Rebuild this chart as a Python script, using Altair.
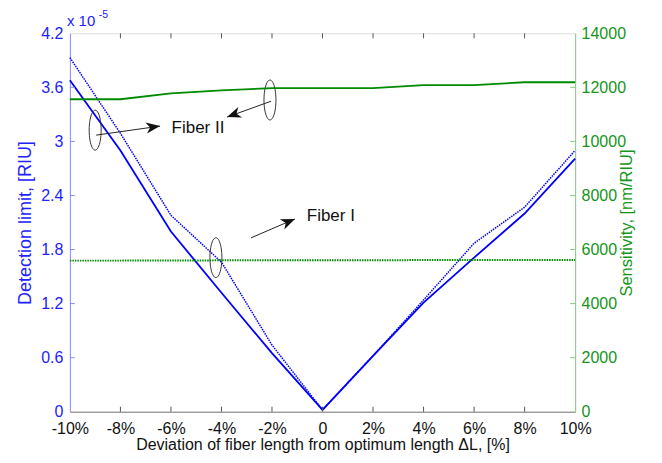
import math
import altair as alt
import pandas as pd

# ---------------- data ----------------
x_pct = [-10, -8, -6, -4, -2, 0, 2, 4, 6, 8, 10]
# detection limit (x 1e-5 RIU)
dl_fiber2 = [3.68, 2.90, 2.00, 1.32, 0.65, 0.02, 0.62, 1.21, 1.71, 2.20, 2.81]   # solid
dl_fiber1 = [3.93, 3.09, 2.18, 1.66, 0.74, 0.02, 0.62, 1.24, 1.87, 2.27, 2.90]   # dotted
# sensitivity (nm/RIU)
sens_fiber2 = [11560, 11560, 11780, 11890, 11970, 11970, 11970, 12080, 12080, 12190, 12190]
sens_fiber1 = [5590, 5590, 5595, 5600, 5600, 5605, 5605, 5610, 5610, 5615, 5615]

x_ticks = [-10, -8, -6, -4, -2, 0, 2, 4, 6, 8, 10]
yb_ticks = [0, 0.6, 1.2, 1.8, 2.4, 3, 3.6, 4.2]
yg_ticks = [0, 2000, 4000, 6000, 8000, 10000, 12000, 14000]

# annotations (in x-% / detection-limit units)
ell_x = [-9.0, -2.08, -4.22]
ell_y = [3.125, 3.46, 1.71]
arr_x = [-8.96, -2.04, -2.83]
arr_y = [3.07, 3.446, 1.93]
arr_x2 = [-6.43, -3.78, -1.09]
arr_y2 = [3.17, 3.27, 2.14]
lab_text = ["Fiber II", "Fiber I"]
lab_x = [-4.93, 0.33]
lab_y = [3.15, 2.17]

# ---------------- geometry / styles ----------------
W, H = 506, 379
BLUE = "#0000ff"
BLUE_AX = "#8c8cff"
BLUE_LAB = "#2222ff"
GREEN = "#008a00"
GREEN_AX = "#88cc88"
GREEN_LAB = "#15951a"
FONT = "Liberation Sans"

xscale = alt.Scale(domain=[-10, 10], nice=False, zero=False)
yb_scale = alt.Scale(domain=[0, 4.2], nice=False)
yg_scale = alt.Scale(domain=[0, 14000], nice=False)

x_axis = alt.Axis(values=x_ticks,
                  labelExpr="datum.value == 0 ? '0' : datum.value + '%'",
                  title="Deviation of fiber length from optimum length ΔL, [%]",
                  ticks=False, grid=False, domainColor="#808080",
                  labelFontSize=16, titleFontSize=16, labelColor="#111",
                  titleColor="#111", labelPadding=9, titlePadding=0,
                  titleFontWeight="normal", labelFlush=False, labelFont=FONT,
                  titleFont=FONT)
yb_axis = alt.Axis(values=yb_ticks, format="~g", title="Detection limit, [RIU]",
                   ticks=False, grid=False, domainColor=BLUE_AX,
                   labelColor=BLUE_LAB, titleColor=BLUE_LAB, labelFontSize=16,
                   titleFontSize=18, labelPadding=7, titlePadding=6,
                   titleFontWeight="normal", labelFlush=False, labelFont=FONT,
                   titleFont=FONT)
yg_axis = alt.Axis(values=yg_ticks, format="d", title="Sensitivity, [nm/RIU]",
                   orient="right", ticks=False, grid=False, domainColor=GREEN_AX,
                   labelColor=GREEN_LAB, titleColor=GREEN_LAB, labelFontSize=16,
                   titleFontSize=16.5, labelPadding=6, titlePadding=9,
                   titleAngle=270, titleBaseline="bottom",
                   titleFontWeight="normal", labelFlush=False, labelFont=FONT,
                   titleFont=FONT)

X = alt.X("x:Q", scale=xscale, axis=x_axis)
YB = alt.Y("y:Q", scale=yb_scale, axis=yb_axis)
YG = alt.Y("y:Q", scale=yg_scale, axis=yg_axis)

df_b2 = pd.DataFrame({"x": x_pct, "y": dl_fiber2})
df_b1 = pd.DataFrame({"x": x_pct, "y": dl_fiber1})
df_g2 = pd.DataFrame({"x": x_pct, "y": sens_fiber2})
df_g1 = pd.DataFrame({"x": x_pct, "y": sens_fiber1})

blue_solid = alt.Chart(df_b2).mark_line(color=BLUE, strokeWidth=1.8).encode(x=X, y=YB)
blue_dot = alt.Chart(df_b1).mark_line(color=BLUE, strokeWidth=1.5, strokeDash=[1.5, 1]).encode(x=X, y=YB)
green_solid = alt.Chart(df_g2).mark_line(color=GREEN, strokeWidth=1.8).encode(x=X, y=YG)
green_dot = alt.Chart(df_g1).mark_line(color=GREEN, strokeWidth=2, strokeDash=[1.5, 1]).encode(x=X, y=YG)

# inward ticks
inner_x = pd.DataFrame({"x": x_ticks[1:-1]})
bottom_ticks = alt.Chart(inner_x).mark_rule(color="#555", strokeWidth=1).encode(
    x=X, y=alt.value(H), y2=alt.value(H - 5))
top_ticks = alt.Chart(inner_x).mark_rule(color="#555", strokeWidth=1).encode(
    x=X, y=alt.value(0), y2=alt.value(5))
left_ticks = alt.Chart(pd.DataFrame({"y": yb_ticks[1:-1]})).mark_rule(
    color=BLUE_AX, strokeWidth=1).encode(y=YB, x=alt.value(0), x2=alt.value(5))
right_ticks = alt.Chart(pd.DataFrame({"y": yg_ticks[1:-1]})).mark_rule(
    color=GREEN_AX, strokeWidth=1).encode(y=YG, x=alt.value(W), x2=alt.value(W - 5))

# ellipse shape (unit space)
n = 48
pts = [(0.3 * math.sin(2 * math.pi * i / n), -math.cos(2 * math.pi * i / n)) for i in range(n)]
ELL = "M" + " L".join(f"{a:.4f},{b:.4f}" for a, b in pts) + " Z"
ARROW = "M0,0 L-0.4,1 L0,0.72 L0.4,1 Z"

ellipses = alt.Chart(pd.DataFrame({"x": ell_x, "y": ell_y})).mark_point(
    shape=ELL, size=1600, filled=False, color="#333", strokeWidth=1, opacity=1
).encode(x=X, y=YB)

px_x = W / 20.0
px_y = H / 4.2
angles = []
for x1, y1, x2, y2 in zip(arr_x, arr_y, arr_x2, arr_y2):
    dx = (x2 - x1) * px_x
    dy = -(y2 - y1) * px_y
    angles.append(math.degrees(math.atan2(dx, -dy)) % 360)

df_arr = pd.DataFrame({"x": arr_x, "y": arr_y, "x2": arr_x2, "y2": arr_y2})
arrow_lines = alt.Chart(df_arr).mark_rule(color="#222", strokeWidth=1).encode(
    x=X, y=YB, x2="x2:Q", y2="y2:Q")
df_head = pd.DataFrame({"x": arr_x2, "y": arr_y2, "ang": angles})
arrow_heads = alt.Chart(df_head).mark_point(
    shape=ARROW, size=784, filled=True, color="#111", opacity=1, strokeWidth=0
).encode(x=X, y=YB, angle=alt.Angle("ang:Q", scale=None))

labels = alt.Chart(pd.DataFrame({"x": lab_x, "y": lab_y, "t": lab_text})).mark_text(
    font=FONT, fontSize=17, color="#111", align="center", baseline="middle"
).encode(x=X, y=YB, text="t:N")

exp_base = alt.Chart(pd.DataFrame({"t": ["x 10"]})).mark_text(
    font=FONT, fontSize=15, color=BLUE_LAB, align="left", baseline="middle"
).encode(x=alt.value(-3), y=alt.value(-12), text="t:N")
exp_pow = alt.Chart(pd.DataFrame({"t": ["-5"]})).mark_text(
    font=FONT, fontSize=10.5, color=BLUE_LAB, align="left", baseline="middle"
).encode(x=alt.value(29), y=alt.value(-18.5), text="t:N")

blue_group = alt.layer(blue_solid, blue_dot, bottom_ticks, top_ticks, left_ticks,
                       ellipses, arrow_lines, arrow_heads, labels, exp_base, exp_pow)
green_group = alt.layer(green_solid, green_dot, right_ticks)

chart = alt.layer(blue_group, green_group).resolve_scale(y="independent").properties(
    width=W, height=H,
    padding={"left": 62, "top": 25, "right": 79, "bottom": 43},
    autosize=alt.AutoSizeParams(type="none"),
).configure_view(stroke="#808080", strokeWidth=1).configure(font=FONT, background="white")

chart.save("out.html", embed_options={"renderer": "svg", "actions": False})
